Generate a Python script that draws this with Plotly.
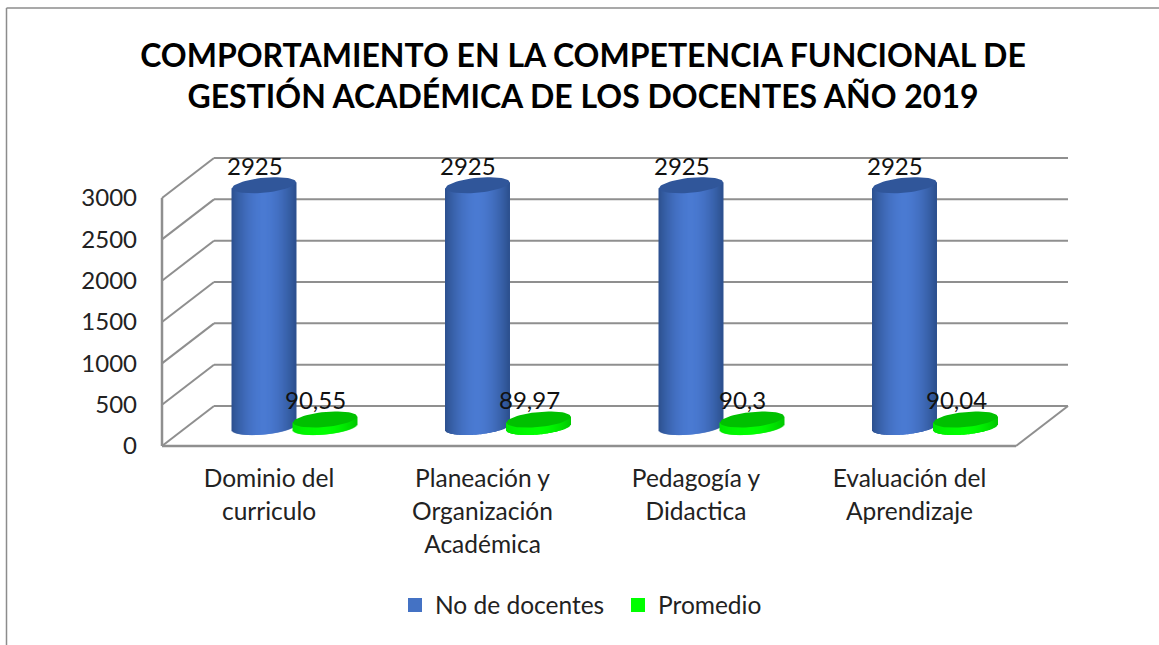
import math
import plotly.graph_objects as go

categories = ["Dominio del<br>curriculo", "Planeación y<br>Organización<br>Académica", "Pedagogía y<br>Didactica", "Evaluación del<br>Aprendizaje"]
docentes = [2925, 2925, 2925, 2925]
promedio = [90.55, 89.97, 90.3, 90.04]
y_ticks = [0, 500, 1000, 1500, 2000, 2500, 3000]
series_names = ["No de docentes", "Promedio"]
title_text = "COMPORTAMIENTO EN LA COMPETENCIA FUNCIONAL DE<br>GESTIÓN ACADÉMICA DE LOS DOCENTES AÑO 2019"

W, H = 1159, 645
FONT = "Lato"
L, R, T, B = 158, 1072, 154, 450      # plot box in pixels
WALL_L, WALL_R, FLOOR = 162, 1068, 446
UX = 213.5                            # pixels per category
UY = 41.33 / 500                      # pixels per value unit
X0 = 269                              # pixel of first category
xr = [(L - X0) / UX, (R - X0) / UX]
yr = [(FLOOR - B) / UY, (FLOOR - T) / UY]
dx = lambda p: p / UX
dy = lambda p: p / UY
DX, DY = dx(52), dy(40)               # 3-D depth of the floor
GRID = "#8f8f8f"

wall_left = (WALL_L - X0) / UX
wall_right = (WALL_R - X0) / UX
front_right = wall_right - DX
BASE = dy(19)                         # floor depth of the cylinders' base centre
RX, RY, TILT = 32, 7.5, 3
OFF = {0: dx(-5), 1: dx(56)}
N = 64


def mix(c1, c2, f):
    return "rgb(%d,%d,%d)" % tuple(round(a + (b - a) * f) for a, b in zip(c1, c2))


def shade(t, edgeL, mid, edgeR):
    f = 1 - abs(t) ** 1.8
    return mix(edgeL if t < 0 else edgeR, mid, f)


STYLE = [
    dict(edgeL=(44, 80, 142), mid=(74, 122, 210), edgeR=(44, 80, 142), top="#30569A", legend="#4472C4"),
    dict(edgeL=(0, 230, 0), mid=(0, 255, 0), edgeR=(0, 200, 0), top="#00C000", legend="#00FF00"),
]

fig = go.Figure()

for s, vals in enumerate([docentes, promedio]):
    st = STYLE[s]
    xs, ys, bases, cols = [], [], [], []
    for i, v in enumerate(vals):
        cx = i + OFF[s]
        for k in range(N):
            t = -1 + (2 * k + 1) / N
            b = BASE - dy(RY * math.sqrt(max(0, 1 - t * t)) - TILT * t)
            top = BASE + v + dy(TILT * t)
            xs.append(cx + dx(RX * t))
            bases.append(b)
            ys.append(top - b)
            cols.append(shade(t, st["edgeL"], st["mid"], st["edgeR"]))
    fig.add_trace(go.Bar(x=xs, y=ys, base=bases, width=dx(2.0 * RX / N + 1.0),
                         marker=dict(color=cols, line=dict(width=0)),
                         showlegend=False, hoverinfo="skip"))
    # top ellipses
    ex, ey = [], []
    for i, v in enumerate(vals):
        cx = i + OFF[s]
        for a in range(0, 361, 6):
            r = math.radians(a)
            ex.append(cx + dx(RX * math.cos(r)))
            ey.append(BASE + v + dy(RY * math.sin(r) + TILT * math.cos(r)))
        ex.append(None)
        ey.append(None)
    fig.add_trace(go.Scatter(x=ex, y=ey, mode="lines", fill="toself", fillcolor=st["top"],
                             line=dict(width=0, color=st["top"]), showlegend=False, hoverinfo="skip"))
    # legend entry
    fig.add_trace(go.Bar(x=[None], y=[None], name=series_names[s],
                         marker=dict(color=st["legend"], line=dict(color=st["legend"], width=2))))

px = lambda p: (p - L) / (R - L)
py = lambda p: 1 - (p - T) / (B - T)

shapes = []
line = dict(color=GRID, width=2)
for v in y_ticks:
    shapes.append(dict(type="line", xref="x", yref="y", x0=wall_left, y0=v, x1=wall_left + DX, y1=v + DY, line=line, layer="below"))
    shapes.append(dict(type="line", xref="x", yref="y", x0=wall_left + DX, y0=v + DY, x1=wall_right, y1=v + DY, line=line, layer="below"))
shapes += [
    dict(type="line", xref="x", yref="y", x0=wall_left, y0=0, x1=wall_left, y1=3000, line=dict(color=GRID, width=2.5), layer="below"),
    dict(type="line", xref="x", yref="y", x0=wall_left, y0=0, x1=front_right, y1=0, line=dict(color=GRID, width=2.5), layer="below"),
    dict(type="line", xref="x", yref="y", x0=front_right, y0=0, x1=wall_right, y1=DY, line=line, layer="below"),
    # outer chart border
    dict(type="line", xref="paper", yref="paper", x0=px(6.5), y0=py(8), x1=px(W), y1=py(8), line=dict(color="#8c8c8c", width=1.5), layer="below"),
    dict(type="line", xref="paper", yref="paper", x0=px(6.5), y0=py(8), x1=px(6.5), y1=py(H), line=dict(color="#8c8c8c", width=1.5), layer="below"),
]

annotations = []
for s, vals in enumerate([docentes, promedio]):
    for i, v in enumerate(vals):
        annotations.append(dict(x=i + OFF[s], y=BASE + v, xref="x", yref="y", text=str(v).replace(".", ","),
                                showarrow=False, xshift=-9.5, yshift=20, yanchor="middle",
                                font=dict(family=FONT, size=24, color="#111111")))

ticktext = ['<span style="font-size:24.5px">%s</span>' % c.replace("<br>", '</span><br><span style="font-size:24.5px">') for c in categories]

fig.update_layout(
    width=W, height=H, autosize=False, barmode="overlay",
    margin=dict(l=L, r=W - R, t=T, b=H - B, autoexpand=False),
    paper_bgcolor="white", plot_bgcolor="rgba(0,0,0,0)",
    font=dict(family=FONT, color="#111111"),
    title=dict(text=title_text, x=583 / W, xanchor="center", y=1 - 66.5 / H, yanchor="middle",
               font=dict(family=FONT, size=32, color="black", weight="bold")),
    xaxis=dict(range=xr, tickmode="array", tickvals=list(range(len(categories))), automargin=False,
               ticktext=ticktext, tickfont=dict(family=FONT, size=25.4, color="#222222"),
               showgrid=False, zeroline=False, showline=False, ticks="", tickangle=0, ticklabelstandoff=11),
    yaxis=dict(range=yr, tickmode="array", tickvals=y_ticks, automargin=False,
               tickfont=dict(family=FONT, size=24, color="#222222"),
               showgrid=False, zeroline=False, showline=False, ticks="", ticklabelstandoff=20),
    legend=dict(orientation="h", x=px(395), xanchor="left", y=py(605), yanchor="middle",
                entrywidth=178, entrywidthmode="pixels", itemwidth=30,
                font=dict(family=FONT, size=24.5, color="#222222"), bgcolor="rgba(0,0,0,0)"),
    shapes=shapes, annotations=annotations,
)

fig.write_html("out.html", config={"displayModeBar": False},
               post_script="document.body.style.margin='0';document.body.style.overflow='hidden';")
